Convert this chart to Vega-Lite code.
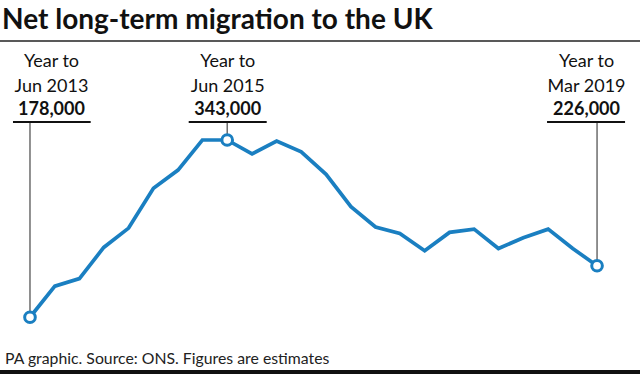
{
  "$schema": "https://vega.github.io/schema/vega-lite/v6.json",
  "width": 640,
  "height": 374,
  "autosize": "none",
  "padding": 0,
  "background": "white",
  "config": {"view": {"stroke": null}, "font": "Lato"},
  "datasets": {
    "series": [
      {"period": "Jun 2013", "date": "2013-06-01", "migration": 178000},
      {"period": "Sep 2013", "date": "2013-09-01", "migration": 207000},
      {"period": "Dec 2013", "date": "2013-12-01", "migration": 214000},
      {"period": "Mar 2014", "date": "2014-03-01", "migration": 243000},
      {"period": "Jun 2014", "date": "2014-06-01", "migration": 261000},
      {"period": "Sep 2014", "date": "2014-09-01", "migration": 298000},
      {"period": "Dec 2014", "date": "2014-12-01", "migration": 315000},
      {"period": "Mar 2015", "date": "2015-03-01", "migration": 343000},
      {"period": "Jun 2015", "date": "2015-06-01", "migration": 343000},
      {"period": "Sep 2015", "date": "2015-09-01", "migration": 330000},
      {"period": "Dec 2015", "date": "2015-12-01", "migration": 342000},
      {"period": "Mar 2016", "date": "2016-03-01", "migration": 332000},
      {"period": "Jun 2016", "date": "2016-06-01", "migration": 311000},
      {"period": "Sep 2016", "date": "2016-09-01", "migration": 281000},
      {"period": "Dec 2016", "date": "2016-12-01", "migration": 262000},
      {"period": "Mar 2017", "date": "2017-03-01", "migration": 256000},
      {"period": "Jun 2017", "date": "2017-06-01", "migration": 240000},
      {"period": "Sep 2017", "date": "2017-09-01", "migration": 257000},
      {"period": "Dec 2017", "date": "2017-12-01", "migration": 260000},
      {"period": "Mar 2018", "date": "2018-03-01", "migration": 242000},
      {"period": "Jun 2018", "date": "2018-06-01", "migration": 252000},
      {"period": "Sep 2018", "date": "2018-09-01", "migration": 260000},
      {"period": "Dec 2018", "date": "2018-12-01", "migration": 242000},
      {"period": "Mar 2019", "date": "2019-03-01", "migration": 226000}
    ],
    "notes": [
      {"period": "Jun 2013", "date": "2013-06-01", "migration": 178000},
      {"period": "Jun 2015", "date": "2015-06-01", "migration": 343000},
      {"period": "Mar 2019", "date": "2019-03-01", "migration": 226000}
    ]
  },
  "layer": [
    {
      "data": {"values": [{"title": "Net long-term migration to the UK"}]},
      "mark": {"type": "text", "align": "left", "baseline": "alphabetic", "fontSize": 28, "fontWeight": "bold", "color": "#111111"},
      "encoding": {"x": {"value": 2}, "y": {"value": 29}, "text": {"field": "title"}}
    },
    {
      "data": {"values": [{}]},
      "mark": {"type": "rule", "color": "#222222", "strokeWidth": 1.6},
      "encoding": {"y": {"value": 41}}
    },
    {
      "data": {"values": [{}]},
      "mark": {"type": "rule", "color": "#111111", "strokeWidth": 4},
      "encoding": {"y": {"value": 372}}
    },
    {
      "data": {"values": [{"note": "PA graphic. Source: ONS. Figures are estimates"}]},
      "mark": {"type": "text", "align": "left", "baseline": "alphabetic", "fontSize": 15.8, "color": "#222222"},
      "encoding": {"x": {"value": 5}, "y": {"value": 364}, "text": {"field": "note"}}
    },
    {
      "encoding": {
        "x": {
          "field": "date",
          "type": "temporal",
          "axis": null,
          "scale": {
            "domain": [
              {"year": 2013, "month": 2, "date": 10, "utc": true},
              {"year": 2019, "month": 8, "date": 7, "utc": true}
            ]
          }
        },
        "y": {
          "field": "migration",
          "type": "quantitative",
          "axis": null,
          "scale": {"domain": [125200, 473300], "zero": false, "nice": false}
        }
      },
      "layer": [
        {
          "data": {"name": "notes"},
          "mark": {"type": "rule", "color": "#555555", "strokeWidth": 1.3},
          "encoding": {"y2": {"value": 122}}
        },
        {
          "data": {"name": "series"},
          "mark": {"type": "line", "color": "#1a7fc1", "strokeWidth": 3.7, "strokeJoin": "miter"}
        },
        {
          "data": {"name": "notes"},
          "mark": {"type": "point", "shape": "circle", "filled": true, "fill": "white", "stroke": "#1a7fc1", "strokeWidth": 3, "size": 113, "opacity": 1}
        },
        {
          "data": {"name": "notes"},
          "transform": [{"filter": "datum.period === 'Jun 2013'"}],
          "layer": [
            {"mark": {"type": "rule", "xOffset": -17, "x2Offset": 60.7, "color": "#111111", "strokeWidth": 2}, "encoding": {"x2": {"field": "date"}, "y": {"value": 122}}},
            {"mark": {"type": "text", "dx": 21.5, "fontSize": 18, "align": "center", "baseline": "alphabetic", "color": "#111111"}, "encoding": {"y": {"value": 67}, "text": {"value": "Year to"}}},
            {"mark": {"type": "text", "dx": 21.5, "fontSize": 18, "align": "center", "baseline": "alphabetic", "color": "#111111"}, "encoding": {"y": {"value": 91.5}, "text": {"field": "period"}}},
            {"mark": {"type": "text", "dx": 21.5, "fontSize": 18, "fontWeight": "bold", "align": "center", "baseline": "alphabetic", "color": "#111111"}, "encoding": {"y": {"value": 115}, "text": {"field": "migration", "type": "quantitative", "format": ","}}}
          ]
        },
        {
          "data": {"name": "notes"},
          "transform": [{"filter": "datum.period === 'Jun 2015'"}],
          "layer": [
            {"mark": {"type": "rule", "xOffset": -38.5, "x2Offset": 39.5, "color": "#111111", "strokeWidth": 2}, "encoding": {"x2": {"field": "date"}, "y": {"value": 122}}},
            {"mark": {"type": "text", "dx": 0.5, "fontSize": 18, "align": "center", "baseline": "alphabetic", "color": "#111111"}, "encoding": {"y": {"value": 67}, "text": {"value": "Year to"}}},
            {"mark": {"type": "text", "dx": 0.5, "fontSize": 18, "align": "center", "baseline": "alphabetic", "color": "#111111"}, "encoding": {"y": {"value": 91.5}, "text": {"field": "period"}}},
            {"mark": {"type": "text", "dx": 0.5, "fontSize": 18, "fontWeight": "bold", "align": "center", "baseline": "alphabetic", "color": "#111111"}, "encoding": {"y": {"value": 115}, "text": {"field": "migration", "type": "quantitative", "format": ","}}}
          ]
        },
        {
          "data": {"name": "notes"},
          "transform": [{"filter": "datum.period === 'Mar 2019'"}],
          "layer": [
            {"mark": {"type": "rule", "xOffset": -50, "x2Offset": 28, "color": "#111111", "strokeWidth": 2}, "encoding": {"x2": {"field": "date"}, "y": {"value": 122}}},
            {"mark": {"type": "text", "dx": -10.5, "fontSize": 18, "align": "center", "baseline": "alphabetic", "color": "#111111"}, "encoding": {"y": {"value": 67}, "text": {"value": "Year to"}}},
            {"mark": {"type": "text", "dx": -10.5, "fontSize": 18, "align": "center", "baseline": "alphabetic", "color": "#111111"}, "encoding": {"y": {"value": 91.5}, "text": {"field": "period"}}},
            {"mark": {"type": "text", "dx": -10.5, "fontSize": 18, "fontWeight": "bold", "align": "center", "baseline": "alphabetic", "color": "#111111"}, "encoding": {"y": {"value": 115}, "text": {"field": "migration", "type": "quantitative", "format": ","}}}
          ]
        }
      ]
    }
  ]
}
